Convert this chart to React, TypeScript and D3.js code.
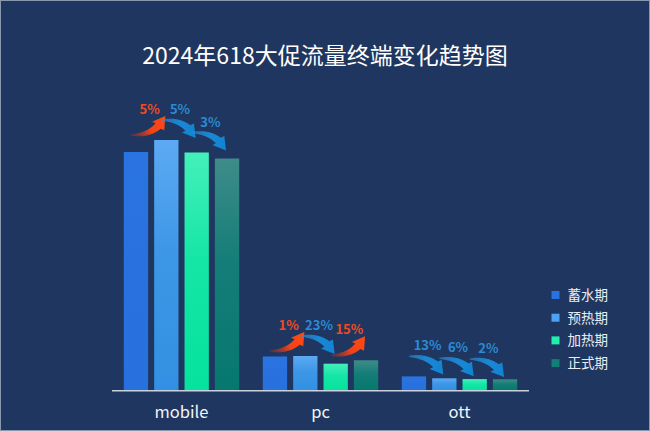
import React, { useEffect, useRef } from "react";
import * as d3 from "d3";

const categories = ["mobile", "pc", "ott"];
const phases = ["蓄水期", "预热期", "加热期", "正式期"];
const mobileValues = [2385, 2505, 2380, 2320];
const pcValues = [340, 345, 268, 302];
const ottValues = [141, 122, 114, 112];
const mobileChanges = ["5%", "5%", "3%"];
const pcChanges = ["1%", "23%", "15%"];
const ottChanges = ["13%", "6%", "2%"];
const yTicks = [0, 2600];

const W = 650;
const H = 431;
const FONT = "'Noto Sans CJK SC', 'Noto Sans', sans-serif";

const barTop = ["#2a74e2", "#5caaf3", "#44f0ba", "#3e8c8a"];
const barBottom = ["#2870de", "#3290e2", "#05e29e", "#067870"];
const legendColors = ["#2a72e0", "#4ba3f2", "#1ef0b0", "#137d76"];

// tapered curved arrow from (x0,y0) to the tip at (x1,y1)
function arrowPath(x0: number, y0: number, x1: number, y1: number) {
  const cx = x0 + 0.72 * (x1 - x0);
  const cy = y0 - 0.04 * (y1 - y0);
  const n = 50;
  const pts: [number, number][] = [];
  for (let i = 0; i <= n; i++) {
    const t = i / n;
    const a = (1 - t) * (1 - t), b = 2 * (1 - t) * t, c = t * t;
    pts.push([a * x0 + b * cx + c * x1, a * y0 + b * cy + c * y1]);
  }
  const cum = [0];
  for (let i = 1; i <= n; i++) {
    cum.push(cum[i - 1] + Math.hypot(pts[i][0] - pts[i - 1][0], pts[i][1] - pts[i - 1][1]));
  }
  const L = cum[n];
  const headLen = Math.min(12, L * 0.36);
  const shaftLen = L - headLen;
  const left: [number, number][] = [];
  const right: [number, number][] = [];
  let base: [number, number] = pts[0];
  for (let i = 0; i <= n; i++) {
    if (cum[i] > shaftLen) break;
    const j = Math.min(i + 1, n), k = Math.max(i - 1, 0);
    let tx = pts[j][0] - pts[k][0], ty = pts[j][1] - pts[k][1];
    const len = Math.hypot(tx, ty) || 1;
    tx /= len; ty /= len;
    const w = 0.5 + 3.3 * Math.pow(cum[i] / shaftLen, 0.8);
    left.push([pts[i][0] - ty * w, pts[i][1] + tx * w]);
    right.push([pts[i][0] + ty * w, pts[i][1] - tx * w]);
    base = pts[i];
  }
  let dx = x1 - base[0], dy = y1 - base[1];
  const dl = Math.hypot(dx, dy) || 1;
  dx /= dl; dy /= dl;
  const hw = 7.5;
  const p = d3.path();
  p.moveTo(left[0][0], left[0][1]);
  left.forEach(q => p.lineTo(q[0], q[1]));
  p.lineTo(base[0] - dy * hw, base[1] + dx * hw);
  p.lineTo(x1, y1);
  p.lineTo(base[0] + dy * hw, base[1] - dx * hw);
  right.slice().reverse().forEach(q => p.lineTo(q[0], q[1]));
  p.closePath();
  return p.toString();
}

function App() {
  const ref = useRef<SVGSVGElement>(null);

  useEffect(() => {
    const svg = d3.select(ref.current);
    svg.selectAll("*").remove();
    const values = [mobileValues, pcValues, ottValues];
    const changes = [mobileChanges, pcChanges, ottChanges];
    const baseline = 390.5;

    const defs = svg.append("defs");
    phases.forEach((_, i) => {
      const g = defs.append("linearGradient")
        .attr("id", "bar" + i)
        .attr("x1", 0).attr("y1", 0).attr("x2", 0).attr("y2", 1);
      g.append("stop").attr("offset", "0%").attr("stop-color", barTop[i]);
      g.append("stop").attr("offset", "45%").attr("stop-color", d3.interpolateRgb(barTop[i], barBottom[i])(0.75));
      g.append("stop").attr("offset", "100%").attr("stop-color", barBottom[i]);
    });

    svg.append("rect")
      .attr("x", 0.5).attr("y", 0.5)
      .attr("width", W - 1).attr("height", H - 1)
      .attr("fill", "#1f3760")
      .attr("stroke", "#8a98ae")
      .attr("stroke-width", 1);

    svg.append("text")
      .attr("x", W / 2).attr("y", 64)
      .attr("text-anchor", "middle")
      .attr("fill", "#ffffff")
      .attr("font-family", FONT)
      .attr("font-size", 23)
      .text("2024年618大促流量终端变化趋势图");

    const x0 = d3.scaleBand().domain(categories).range([112, 529]);
    const x1 = d3.scaleBand().domain(phases)
      .range([11.8, x0.bandwidth() - 11.8])
      .paddingInner(0.2);
    const y = d3.scaleLinear().domain(yTicks).range([baseline, baseline - 260]);

    const groups = svg.append("g").selectAll("g")
      .data(categories)
      .join("g")
      .attr("transform", d => "translate(" + x0(d) + ",0)");

    groups.selectAll("rect")
      .data((d, ci) => values[ci].map((v, i) => ({ v, i })))
      .join("rect")
      .attr("x", d => x1(phases[d.i]) as number)
      .attr("y", d => y(d.v))
      .attr("width", x1.bandwidth())
      .attr("height", d => baseline - y(d.v))
      .attr("fill", d => "url(#bar" + d.i + ")");

    svg.append("line")
      .attr("x1", 112).attr("x2", 529)
      .attr("y1", baseline + 0.3).attr("y2", baseline + 0.3)
      .attr("stroke", "#c9d1dd")
      .attr("stroke-width", 1.5);

    svg.append("g").selectAll("text")
      .data(categories)
      .join("text")
      .attr("x", d => (x0(d) as number) + x0.bandwidth() / 2)
      .attr("y", 418)
      .attr("text-anchor", "middle")
      .attr("fill", "#f2f4f8")
      .attr("font-family", FONT)
      .attr("font-size", 16.5)
      .text(d => d);

    // change arrows and labels
    categories.forEach((cat, ci) => {
      const vals = values[ci];
      const center = (i: number) => (x0(cat) as number) + (x1(phases[i]) as number) + x1.bandwidth() / 2;
      for (let i = 0; i < vals.length - 1; i++) {
        const up = vals[i + 1] > vals[i];
        const topHigh = Math.min(y(vals[i]), y(vals[i + 1]));
        const tx = center(i) - 5;
        const hx = center(i + 1) - 1;
        const ty = up ? topHigh - 5 : topHigh - 20;
        const hy = up ? topHigh - 24 : topHigh - 2;
        const gid = "arr" + ci + "_" + i;
        const g = defs.append("linearGradient")
          .attr("id", gid)
          .attr("gradientUnits", "userSpaceOnUse")
          .attr("x1", tx).attr("y1", ty).attr("x2", hx).attr("y2", hy);
        if (up) {
          g.append("stop").attr("offset", "0%").attr("stop-color", "#b0301c").attr("stop-opacity", 0.35);
          g.append("stop").attr("offset", "50%").attr("stop-color", "#f24318");
          g.append("stop").attr("offset", "100%").attr("stop-color", "#ff4a12");
        } else {
          g.append("stop").attr("offset", "0%").attr("stop-color", "#2a8ed8").attr("stop-opacity", 0.6);
          g.append("stop").attr("offset", "45%").attr("stop-color", "#1a88d4");
          g.append("stop").attr("offset", "100%").attr("stop-color", "#0f84d2");
        }
        svg.append("path")
          .attr("d", arrowPath(tx, ty, hx, hy))
          .attr("fill", "url(#" + gid + ")");
        svg.append("text")
          .attr("x", (tx + hx) / 2 + 1.5)
          .attr("y", topHigh - 26)
          .attr("text-anchor", "middle")
          .attr("fill", up ? "#f24a1e" : "#2a8bd6")
          .attr("font-family", FONT)
          .attr("font-weight", 700)
          .attr("font-size", 13)
          .text(changes[ci][i]);
      }
    });

    const legend = svg.append("g").selectAll("g")
      .data(phases)
      .join("g")
      .attr("transform", (d, i) => "translate(551.5," + (295 + i * 22.7) + ")");
    legend.append("rect")
      .attr("x", 0).attr("y", -4)
      .attr("width", 8).attr("height", 8)
      .attr("fill", (d, i) => legendColors[i]);
    legend.append("text")
      .attr("x", 16).attr("y", 0)
      .attr("dy", "0.36em")
      .attr("fill", "#e9eef5")
      .attr("font-family", FONT)
      .attr("font-size", 13.5)
      .text(d => d);
  }, []);

  return (
    <svg ref={ref} width={W} height={H}
      style={{ position: "absolute", left: 0, top: 0, display: "block" }} />
  );
}

export default App;
